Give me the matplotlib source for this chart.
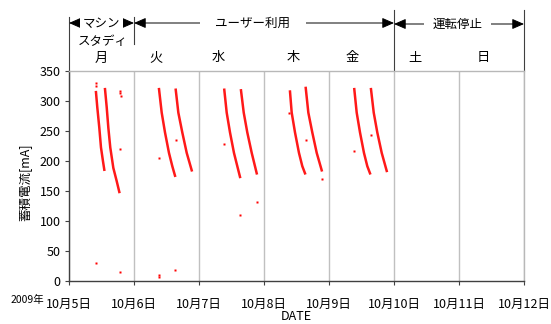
import matplotlib
matplotlib.use("Agg")
import matplotlib.pyplot as plt
from matplotlib.transforms import blended_transform_factory

plt.rcParams["font.family"] = ["Noto Sans CJK JP", "DejaVu Sans"]

# days counted from 2009-10-05 00:00
DAY_TICKS = [0, 1, 2, 3, 4, 5, 6, 7]
DAY_TICK_LABELS = ["10月5日", "10月6日", "10月7日", "10月8日",
                   "10月9日", "10月10日", "10月11日", "10月12日"]
WEEKDAYS = ["月", "火", "水", "木", "金", "土", "日"]
Y_TICKS = [0, 50, 100, 150, 200, 250, 300, 350]

# stored current during user runs, two fills per day (mA)
SEG_DAYS = [
    [0.415, 0.435, 0.466, 0.492, 0.523, 0.543],
    [0.554, 0.580, 0.605, 0.635, 0.682, 0.734, 0.774],
    [1.385, 1.426, 1.477, 1.538, 1.589, 1.631],
    [1.642, 1.682, 1.743, 1.811, 1.888],
    [2.389, 2.426, 2.477, 2.538, 2.589, 2.631],
    [2.646, 2.688, 2.743, 2.811, 2.888],
    [3.400, 3.426, 3.477, 3.538, 3.589, 3.631],
    [3.642, 3.682, 3.743, 3.811, 3.888],
    [4.389, 4.426, 4.477, 4.538, 4.589, 4.631],
    [4.646, 4.688, 4.743, 4.811, 4.888],
]
SEG_VALS = [
    [314, 289, 255, 222, 199, 185],
    [319, 289, 255, 222, 188, 166, 148],
    [319, 280, 247, 213, 191, 175],
    [318, 280, 247, 213, 184],
    [318, 280, 247, 213, 191, 173],
    [317, 280, 247, 213, 179],
    [315, 280, 247, 213, 191, 179],
    [321, 280, 247, 213, 184],
    [319, 280, 247, 213, 191, 179],
    [319, 280, 247, 213, 183],
]

# isolated readings
OUT_DAYS = [0.415, 0.415, 0.41, 0.785, 0.79, 0.80, 0.782, 0.785,
            1.385, 1.642, 1.39, 1.39, 1.63,
            2.39, 2.63, 2.89,
            3.39, 3.645, 3.888,
            4.389, 4.646]
OUT_VALS = [329, 325, 30, 316, 312, 308, 219, 15,
            204, 235, 10, 7, 18,
            227, 109, 132,
            280, 235, 170,
            216, 242]

W, H = 551, 324
fig = plt.figure(figsize=(W / 100, H / 100), dpi=100)
ax = fig.add_axes([69 / W, 1 - 281 / H, (524 - 69) / W, (281 - 70.5) / H])

for d, v in zip(SEG_DAYS, SEG_VALS):
    ax.plot(d, v, color="#ff0000", lw=1.8, alpha=0.9)
ax.plot(OUT_DAYS, OUT_VALS, ls="none", marker="s", ms=1.8, color="#ff0000",
        mec="none")

ax.set_xlim(0, 7)
ax.set_ylim(0, 350)
ax.set_xticks(DAY_TICKS)
ax.set_xticklabels(DAY_TICK_LABELS, fontsize=9)
ax.set_yticks(Y_TICKS)
ax.tick_params(axis="y", labelsize=9, length=3, width=0.8, color="#404040", pad=3)
ax.tick_params(axis="x", length=3, width=0.8, color="#404040", pad=9)
ax.grid(axis="x", color="#c0c0c0", lw=1)
for s in ("left", "bottom"):
    ax.spines[s].set_color("#404040")
    ax.spines[s].set_linewidth(1)
for s in ("top", "right"):
    ax.spines[s].set_color("#b8b8b8")
    ax.spines[s].set_linewidth(1)

ax.set_ylabel("蓄積電流[mA]", fontsize=9)
ax.yaxis.set_label_coords(-0.082, 0.47)
fig.text(296 / W, 1 - 310 / H, "DATE", ha="center", va="top", fontsize=9)
fig.text(44 / W, 1 - 300 / H, "2009年", ha="right", va="center", fontsize=7.5)

# header above the plot
hdr = blended_transform_factory(ax.transData, fig.transFigure)


def fy(py):
    return 1 - py / H


label_x = [0.49, 1.34, 2.29, 3.45, 4.35, 5.32, 6.37]
for x, lab in zip(label_x, WEEKDAYS):
    ax.text(x, fy(58), lab, transform=hdr, ha="center", va="center", fontsize=9.5)

for x, y0, y1 in [(0, 17, 70), (1, 17, 44), (5, 10, 70), (7, 10, 70)]:
    ax.plot([x, x], [fy(y0), fy(y1)], transform=hdr, color="#404040", lw=0.8,
            clip_on=False)


def span(x0, x1, py, text, tx, pad):
    ax.annotate("", xy=(x1, fy(py)), xytext=(x0, fy(py)), xycoords=hdr,
                textcoords=hdr, annotation_clip=False,
                arrowprops=dict(arrowstyle="<|-|>,head_length=0.8,head_width=0.35",
                                color="black", lw=0.7,
                                shrinkA=0, shrinkB=0, mutation_scale=9))
    ax.text(tx, fy(py), text, transform=hdr, ha="center", va="center",
            fontsize=9, bbox=dict(facecolor="white", edgecolor="none", pad=pad))


span(0, 1, 23, "マシン", 0.5, 2)
ax.text(0.52, fy(42), "スタディ", transform=hdr, ha="center", va="center",
        fontsize=9)
span(1, 5, 23, "ユーザー利用", 2.83, 11)
span(5, 7, 24, "運転停止", 5.98, 6)

fig.savefig("out.png", dpi=100)
